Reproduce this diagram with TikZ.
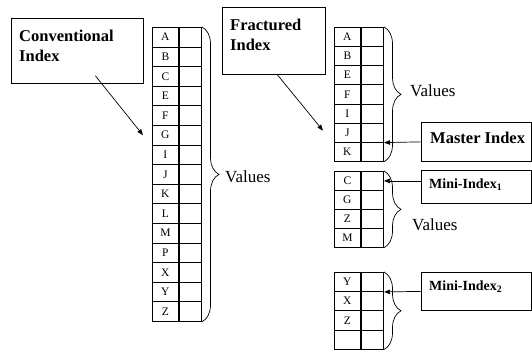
\documentclass[tikz,border=0pt]{standalone}
\usepackage{fontspec}
\setmainfont{Liberation Serif}
\usetikzlibrary{arrows.meta,decorations.pathreplacing}

\tikzset{
  cellbase/.style={draw, line width=0.75pt, inner sep=0pt, anchor=north west},
  keycell/.style={cellbase, minimum width=26pt, font=\fontsize{11.5}{12}\selectfont},
  valcell/.style={cellbase, minimum width=22.5pt},
  titlebox/.style={draw, line width=0.75pt, anchor=north west, inner sep=0pt},
  titletext/.style={anchor=north west, inner sep=0pt, align=left,
    font=\fontsize{16.5}{20}\selectfont\bfseries},
  labeltext/.style={anchor=west, inner sep=0pt, font=\bfseries},
  valuestext/.style={anchor=west, inner sep=0pt, font=\fontsize{17}{20}\selectfont},
  curly/.style={decorate, line width=0.7pt,
    decoration={brace, amplitude=#1}},
  pointer/.style={line width=0.7pt, -{Triangle[length=6pt,width=4.5pt]}}
}

% one index table: name, left x, top y, row height, list of keys
\newcommand{\indextable}[5]{%
  \foreach \lbl [count=\i from 0] in {#5} {
    \node[keycell, minimum height=#4pt] (#1-k\i) at (#2, #3+#4*\i) {\lbl};
    \node[valcell, minimum height=#4pt] (#1-v\i) at (#1-k\i.north east) {};
  }}

\begin{document}
\begin{tikzpicture}[x=1pt, y=-1pt]
  \useasboundingbox (0,0) rectangle (532,350);

  % conventional index
  \node[titlebox, minimum width=132pt, minimum height=65pt] (conv) at (11,18) {};
  \node[titletext] (convtxt) at (19,30) {Conventional\\Index};
  \indextable{L}{152}{27}{19.6}{A,B,C,E,F,G,I,J,K,L,M,P,X,Y,Z}
  \draw[curly=17pt] (L-v0.north east) -- (L-v14.south east);
  \node[valuestext] (valsL) at (225,177) {Values};
  \draw[pointer] ([xshift=18pt,yshift=8pt]conv.south) -- ([xshift=-9pt]L-k5.west);

  % fractured index
  \node[titlebox, minimum width=103pt, minimum height=67pt] (frac) at (222,7) {};
  \node[titletext] (fractxt) at (230,19) {Fractured\\Index};
  \indextable{T}{334}{27}{19.14}{A,B,E,F,I,J,K}
  \draw[curly=17pt] (T-v0.north east) -- (T-v6.south east);
  \node[valuestext] (valsT) at (410,91) {Values};
  \draw[pointer] ([xshift=3.5pt]frac.south) -- ([xshift=-11pt,yshift=2pt]T-k5.west);

  % master index
  \node[titlebox, minimum width=110pt, minimum height=39pt] (master) at (421,122) {};
  \node[labeltext, font=\fontsize{16.5}{20}\selectfont\bfseries] (mastertxt) at (430,138) {Master Index};
  \draw[pointer] (master.west) -- (T-v5.south east);

  % first mini index
  \indextable{M1}{334}{171}{19}{C,G,Z,M}
  \draw[curly=17pt] (M1-v0.north east) -- (M1-v3.south east);
  \node[valuestext] (valsM) at (412,225) {Values};
  \node[titlebox, minimum width=110pt, minimum height=33pt] (mini1) at (421,170) {};
  \node[labeltext, font=\fontsize{14}{16}\selectfont\bfseries] (mini1txt) at (429,185) {Mini-Index\textsubscript{1}};
  \draw[pointer] (mini1.west |- M1-v0.east) -- (M1-v0.east);

  % second mini index
  \indextable{M2}{334}{272}{19.2}{Y,X,Z,{}}
  \draw[curly=17pt] (M2-v0.north east) -- (M2-v3.south east);
  \node[titlebox, minimum width=110pt, minimum height=38pt] (mini2) at (421,272) {};
  \node[labeltext, font=\fontsize{14}{16}\selectfont\bfseries] (mini2txt) at (429,287) {Mini-Index\textsubscript{2}};
  \draw[pointer] (mini2.west) -- (M2-v0.south east);
\end{tikzpicture}
\end{document}
